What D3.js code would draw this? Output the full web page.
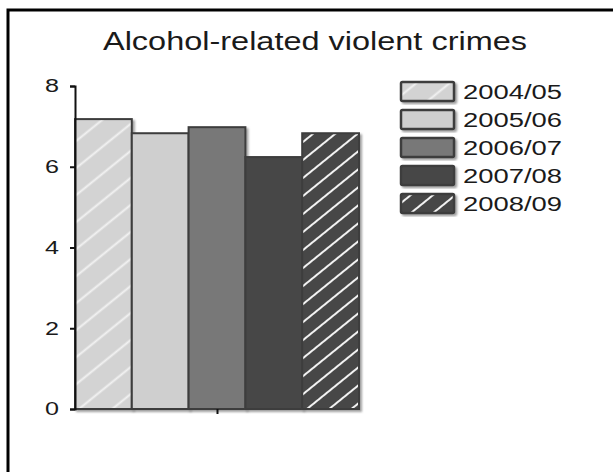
<!DOCTYPE html>
<html><head><meta charset="utf-8">
<script src="https://cdn.jsdelivr.net/npm/d3@7"></script>
<style>body{margin:0;background:#fff}svg{display:block}text{font-family:"Liberation Sans",Arial,sans-serif;fill:#1a1a1a}</style>
</head><body>
<script>
const title = "Alcohol-related violent crimes";
const series = ["2004/05","2005/06","2006/07","2007/08","2008/09"];
const values = [7.18, 6.83, 6.98, 6.24, 6.83];
const yTicks = [0, 2, 4, 6, 8];
const fills = ["#d3d3d3","#cfcfcf","#787878","#474747","#474747"];
const hatches = [21, null, null, null, 14];

const W = 613, H = 472;
const svg = d3.select("body").append("svg").attr("width", W).attr("height", H);
const defs = svg.append("defs");
const f = defs.append("filter").attr("id","sh").attr("x","-20%").attr("y","-20%").attr("width","140%").attr("height","140%");
f.append("feDropShadow").attr("dx",2).attr("dy",2).attr("stdDeviation",1.2).attr("flood-color","#777").attr("flood-opacity",0.7);

series.forEach((s,i)=>{
  if(!hatches[i]) return;
  const sp = hatches[i];
  const p = defs.append("pattern").attr("id","h"+i).attr("patternUnits","userSpaceOnUse")
    .attr("width",sp).attr("height",sp).attr("patternTransform","rotate(-39)");
  p.append("rect").attr("width",sp).attr("height",sp).attr("fill",fills[i]);
  p.append("line").attr("x1",0).attr("y1",sp/2).attr("x2",sp).attr("y2",sp/2)
    .attr("stroke","#f2f2f2").attr("stroke-width",2);
});
const fillOf = i => hatches[i] ? `url(#h${i})` : fills[i];

// frame
svg.append("rect").attr("x",8).attr("y",10).attr("width",700).attr("height",600)
  .attr("fill","none").attr("stroke","#000").attr("stroke-width",3);

svg.append("text").attr("x",315).attr("y",50).attr("text-anchor","middle")
  .attr("font-size",25).attr("textLength",424).attr("lengthAdjust","spacingAndGlyphs").text(title);

const x = d3.scaleBand().domain(series).range([75, 359]).padding(0);
const y = d3.scaleLinear().domain([0, 8]).range([409, 86]);

// bars
svg.append("g").selectAll("rect").data(values).join("rect")
  .attr("x",(d,i)=>x(series[i])).attr("y",d=>y(d))
  .attr("width",x.bandwidth()).attr("height",d=>y(0)-y(d))
  .attr("fill",(d,i)=>fillOf(i)).attr("stroke","#3c3c3c").attr("stroke-width",2)
  .attr("filter","url(#sh)");

// y axis
const ya = svg.append("g").attr("transform","translate(75,0)")
  .call(d3.axisLeft(y).tickValues(yTicks).tickSize(5).tickSizeOuter(5).tickPadding(11));
ya.select(".domain").attr("stroke","#111").attr("stroke-width",2);
ya.selectAll(".tick line").attr("stroke","#111").attr("stroke-width",2);
ya.selectAll(".tick text").attr("font-size",18).attr("font-family","Liberation Sans, Arial, sans-serif")
  .attr("fill","#1a1a1a").attr("textLength",14).attr("lengthAdjust","spacingAndGlyphs");

// x axis
const xc = d3.scaleLinear().domain([0,1]).range([75, 359]);
const xa = svg.append("g").attr("transform","translate(0,409)")
  .call(d3.axisBottom(xc).tickValues([0.5]).tickSize(5).tickSizeOuter(0).tickFormat(""));
xa.select(".domain").attr("stroke","#111").attr("stroke-width",2.5).attr("filter","url(#sh)");
xa.selectAll(".tick line").attr("stroke","#111").attr("stroke-width",2);

// legend
const lg = svg.append("g").selectAll("g").data(series).join("g")
  .attr("transform",(d,i)=>`translate(401,${82 + i*28})`);
lg.append("rect").attr("width",53).attr("height",19).attr("rx",1.5)
  .attr("fill",(d,i)=>fillOf(i)).attr("stroke","#3c3c3c").attr("stroke-width",2.5)
  .attr("filter","url(#sh)");
lg.append("text").attr("x",62).attr("y",17).attr("font-size",20)
  .attr("textLength",99).attr("lengthAdjust","spacingAndGlyphs").text(d=>d);
</script>
</body></html>
